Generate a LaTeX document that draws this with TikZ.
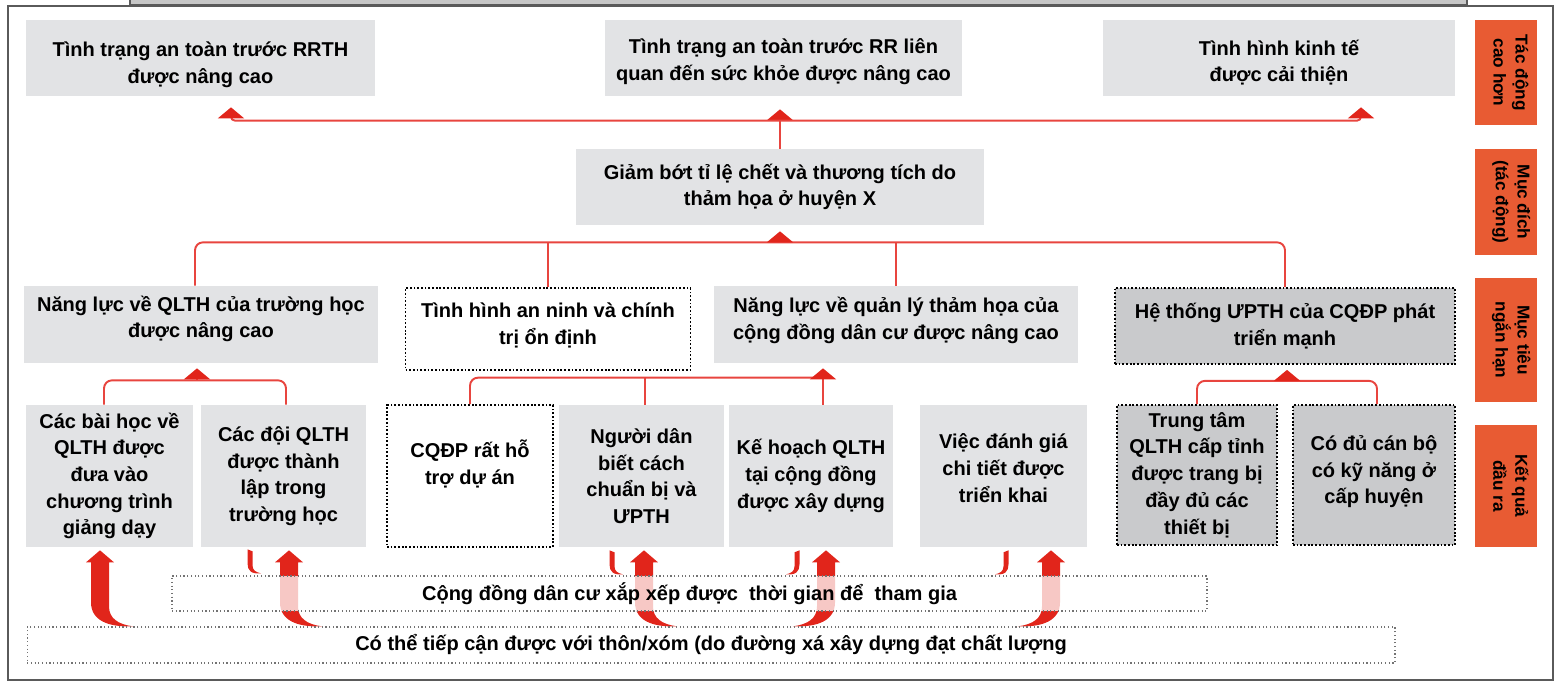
\documentclass[tikz,border=0pt]{standalone}
\usepackage{fontspec}
\setmainfont{Liberation Sans}
\usetikzlibrary{arrows.meta,calc}
\definecolor{boxgray}{HTML}{E2E3E5}
\definecolor{boxdark}{HTML}{C9CACC}
\definecolor{tagorange}{HTML}{E85B33}
\definecolor{linkred}{HTML}{E8453F}
\definecolor{arrowred}{HTML}{E1251B}
\definecolor{framegray}{HTML}{5A5A5A}
\newcommand{\lowstrut}[1]{\rule[-#1]{0pt}{#1}}
\newcommand{\highstrut}[1]{\rule{0pt}{#1}}
\tikzset{
  box/.style={fill=boxgray, align=center, inner sep=0pt, font=\bfseries\fontsize{11.4}{15.2}\selectfont},
  dotbox/.style={box, draw=black, line width=1pt, dash pattern=on 1pt off 1.1pt},
  darkbox/.style={dotbox, fill=boxdark},
  band/.style={box, draw=black!55, line width=0.7pt, dash pattern=on 0.7pt off 1.4pt, fill=white, fill opacity=0.75, text opacity=1},
  tag/.style={fill=tagorange, rotate=-90, align=center, inner sep=0pt, font=\bfseries\fontsize{9.8}{12.5}\selectfont},
  conn/.style={draw=linkred, line width=1.1pt},
  bigup/.pic={\fill[arrowred] (0,0) -- (14,12) -- (9,12) -- (9,56) .. controls (9,68) and (18,74) .. (33,76) .. controls (8,77) and (-9,70) .. (-9,52) -- (-9,12) -- (-14,12) -- cycle;},
  stubup/.pic={\fill[arrowred] (-2.5,0) -- (2.5,2) -- (2.5,16) .. controls (2.5,21) and (6,23) .. (11,24) .. controls (1,25) and (-2.5,21) .. (-2.5,14) -- cycle;}
}
\begin{document}
\begin{tikzpicture}[x=0.02cm, y=-0.02cm, >={Triangle[width=0.52cm,length=0.22cm,color=arrowred]}]
  \useasboundingbox (0,0) rectangle (1561,682);
  \filldraw[fill=black!22, draw=framegray, line width=0.8pt] (130,-5) rectangle (1467,5);
  \draw[framegray, line width=1.2pt] (8,6) rectangle (1553,680);

  \node[box, minimum width=6.98cm, minimum height=1.52cm] (a1) at (200.5,58) {\highstrut{16.4pt}Tình trạng an toàn trước RRTH\\được nâng cao};
  \node[box, minimum width=7.14cm, minimum height=1.52cm] (a2) at (783.5,58) {\highstrut{13pt}Tình trạng an toàn trước RR liên\\quan đến sức khỏe được nâng cao};
  \node[box, minimum width=7.04cm, minimum height=1.52cm] (a3) at (1279,58) {\highstrut{14pt}Tình hình kinh tế\\được cải thiện};
  \node[box, minimum width=8.18cm, minimum height=1.52cm] (goal) at (780,187) {Giảm bớt tỉ lệ chết và thương tích do\\thảm họa ở huyện X};

  \node[box, minimum width=7.08cm, minimum height=1.54cm] (c1) at (201,324.5) {Năng lực về QLTH của trường học\\được nâng cao\lowstrut{8.6pt}};
  \node[dotbox, fill=white, minimum width=5.7cm, minimum height=1.64cm] (c2) at (548,329) {Tình hình an ninh và chính\\trị ổn định\lowstrut{6.4pt}};
  \node[box, minimum width=7.28cm, minimum height=1.54cm] (c3) at (896,324.5) {Năng lực về quản lý thảm họa của\\cộng đồng dân cư được nâng cao\lowstrut{7pt}};
  \node[darkbox, minimum width=6.8cm, minimum height=1.52cm] (c4) at (1285,326) {Hệ thống ƯPTH của CQĐP phát\\triển mạnh};

  \node[box, minimum width=3.34cm, minimum height=2.84cm] (d1) at (109.5,476) {Các bài học về\\QLTH được\\đưa vào\\chương trình\\giảng dạy};
  \node[box, minimum width=3.3cm, minimum height=2.84cm] (d2) at (283.5,476) {Các đội QLTH\\được thành\\lập trong\\trường học};
  \node[dotbox, fill=white, minimum width=3.32cm, minimum height=2.84cm] (d3) at (470,476) {CQĐP rất hỗ\\trợ dự án\lowstrut{16pt}};
  \node[box, minimum width=3.3cm, minimum height=2.84cm] (d4) at (641.5,476) {Người dân\\biết cách\\chuẩn bị và\\ƯPTH};
  \node[box, minimum width=3.28cm, minimum height=2.84cm] (d5) at (811,476) {Kế hoạch QLTH\\tại cộng đồng\\được xây dựng};
  \node[box, minimum width=3.34cm, minimum height=2.84cm] (d6) at (1003.5,476) {Việc đánh giá\\chi tiết được\\triển khai\lowstrut{9pt}};
  \node[darkbox, minimum width=3.2cm, minimum height=2.8cm] (d7) at (1197,475) {Trung tâm\\QLTH cấp tỉnh\\được trang bị\\đầy đủ các\\thiết bị};
  \node[darkbox, minimum width=3.24cm, minimum height=2.8cm] (d8) at (1374,475) {Có đủ cán bộ\\có kỹ năng ở\\cấp huyện\lowstrut{6.2pt}};

  \node[tag, minimum width=2.1cm, minimum height=1.24cm] (t1) at (1506,72.5) {Tác động\\cao hơn\lowstrut{5.7pt}};
  \node[tag, minimum width=2.12cm, minimum height=1.24cm] (t2) at (1506,202) {Mục đích\\(tác động)\lowstrut{8pt}};
  \node[tag, minimum width=2.48cm, minimum height=1.24cm] (t3) at (1506,340) {Mục tiêu\\ngắn hạn\lowstrut{8pt}};
  \node[tag, minimum width=2.44cm, minimum height=1.24cm] (t4) at (1506,486) {Kết quả\\đầu ra\lowstrut{5.7pt}};

  \coordinate (tj) at ($(goal.north)+(0,-28)$);
  \draw[conn,->] (goal.north) -- ($(goal.north |- a2.south)+(0,13)$);
  \draw[conn,rounded corners=0.08cm,<->] ($(a1.south)+(30.5,11)$) |- (tj) -| ($(a3.south)+(82,11)$);

  \coordinate (mj) at ($(goal.south)+(0,17)$);
  \draw[conn,rounded corners=0.16cm] ($(c1.north)+(-6,0)$) |- (mj) -| (c4.north);
  \draw[conn] (c2.north) -- (c2.north |- mj);
  \draw[conn] (c3.north) -- (c3.north |- mj);
  \draw[conn,->] (mj) -- ($(goal.south)+(0,6)$);

  \coordinate (lj) at ($(c1.south)+(-4,17)$);
  \draw[conn,rounded corners=0.16cm] ($(d1.north)+(-5.5,0)$) |- (lj) -| ($(d2.north)+(2.5,0)$);
  \draw[conn,->] (lj) -- ($(c1.south)+(-4,5)$);

  \coordinate (cj) at ($(d5.north)+(12,-27)$);
  \draw[conn,rounded corners=0.16cm] (d3.north) |- (cj);
  \draw[conn] ($(d4.north)+(3.5,0)$) -- ++(0,-27);
  \draw[conn,->] ($(d5.north)+(12,0)$) -- ($(c3.south)+(-73,5)$);

  \coordinate (rj) at ($(c4.south)+(2,16)$);
  \draw[conn,rounded corners=0.16cm] (d7.north) |- (rj) -| ($(d8.north)+(3,0)$);
  \draw[conn,->] (rj) -- ($(c4.south)+(2,5)$);

  \path ($(d1.south)+(-9.5,3)$) pic {bigup};
  \path ($(d2.south)+(5.5,3)$) pic {bigup};
  \path ($(d2.south)+(-33.5,2)$) pic {stubup};
  \path ($(d4.south)+(2.5,3)$) pic {bigup};
  \path ($(d4.south)+(-29.5,3)$) pic {stubup};
  \path ($(d5.south)+(15,3)$) pic[xscale=-1] {bigup};
  \path ($(d5.south)+(-14,3)$) pic[xscale=-1] {stubup};
  \path ($(d6.south)+(47.5,3)$) pic[xscale=-1] {bigup};
  \path ($(d6.south)+(2.5,3)$) pic[xscale=-1] {stubup};

  \node[band, minimum width=20.7cm, minimum height=0.7cm] (e1) at (689.5,593.5) {Cộng đồng dân cư xắp xếp được \ thời gian để \ tham gia};
  \node[band, minimum width=27.36cm, minimum height=0.72cm] (e2) at (711,645) {Có thể tiếp cận được với thôn/xóm (do đường xá xây dựng đạt chất lượng};
\end{tikzpicture}
\end{document}
